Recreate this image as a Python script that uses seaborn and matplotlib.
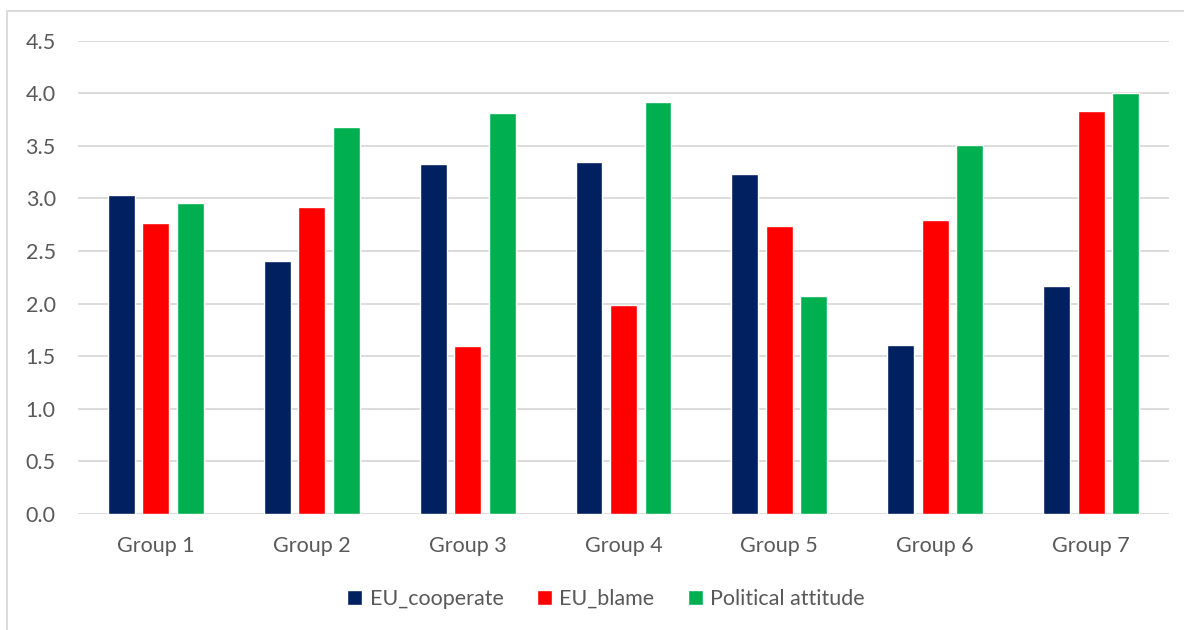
import pandas as pd
import seaborn as sns
import matplotlib.pyplot as plt
from matplotlib.lines import Line2D

# valores
groups = ["Group 1", "Group 2", "Group 3", "Group 4", "Group 5", "Group 6", "Group 7"]
eu_cooperate = [3.03, 2.41, 3.33, 3.35, 3.23, 1.61, 2.17]
eu_blame = [2.77, 2.92, 1.60, 1.99, 2.74, 2.80, 3.83]
political_attitude = [2.96, 3.68, 3.81, 3.92, 2.07, 3.51, 4.00]
series = ["EU_cooperate", "EU_blame", "Political attitude"]
colors = ["#002060", "#FF0000", "#00B050"]
yticks = [0.0, 0.5, 1.0, 1.5, 2.0, 2.5, 3.0, 3.5, 4.0, 4.5]

df = pd.DataFrame({"group": groups * 3,
                   "serie": [series[0]] * 7 + [series[1]] * 7 + [series[2]] * 7,
                   "valor": eu_cooperate + eu_blame + political_attitude})

sns.set_style("white")
plt.rcParams['font.family'] = ['Lato', 'DejaVu Sans']

fig = plt.figure(figsize=(11.84, 6.3), dpi=100)
ax = fig.add_axes([78 / 1184, 1 - 514 / 630, (1169 - 78) / 1184, (514 - 40.7) / 630])

sns.barplot(data=df, x="group", y="valor", hue="serie", palette=colors,
            width=0.663, gap=0.22, ax=ax, saturation=1, legend=True)

ax.set_ylim(0, 4.5)
ax.set_yticks(yticks)
ax.set_yticklabels([f"{t:.1f}" for t in yticks])
ax.set_xlim(-0.5, 6.5)
ax.set_xlabel("")
ax.set_ylabel("")
ax.grid(axis="y", color="#D9D9D9", linewidth=1.3)
ax.set_axisbelow(True)
sns.despine(ax=ax, left=True, bottom=True)
ax.tick_params(axis="both", length=0, labelsize=15.5, colors="#595959")
ax.tick_params(axis="y", pad=16)
ax.tick_params(axis="x", pad=16)

ax.legend(loc="center", bbox_to_anchor=(0.5 + 14 / 1184, 1 - 599 / 630), bbox_transform=fig.transFigure,
          ncol=3, frameon=False, fontsize=15.5, handlelength=0.7, handleheight=0.7,
          handletextpad=0.35, columnspacing=1.55, labelcolor="#595959")

# borde del area del grafico
fig.add_artist(Line2D([7 / 1184, 7 / 1184], [0, 1 - 11 / 630], color="#D9D9D9", lw=1.3))
fig.add_artist(Line2D([7 / 1184, 1], [1 - 11 / 630, 1 - 11 / 630], color="#D9D9D9", lw=1.3))

fig.savefig("out.png", dpi=100)
